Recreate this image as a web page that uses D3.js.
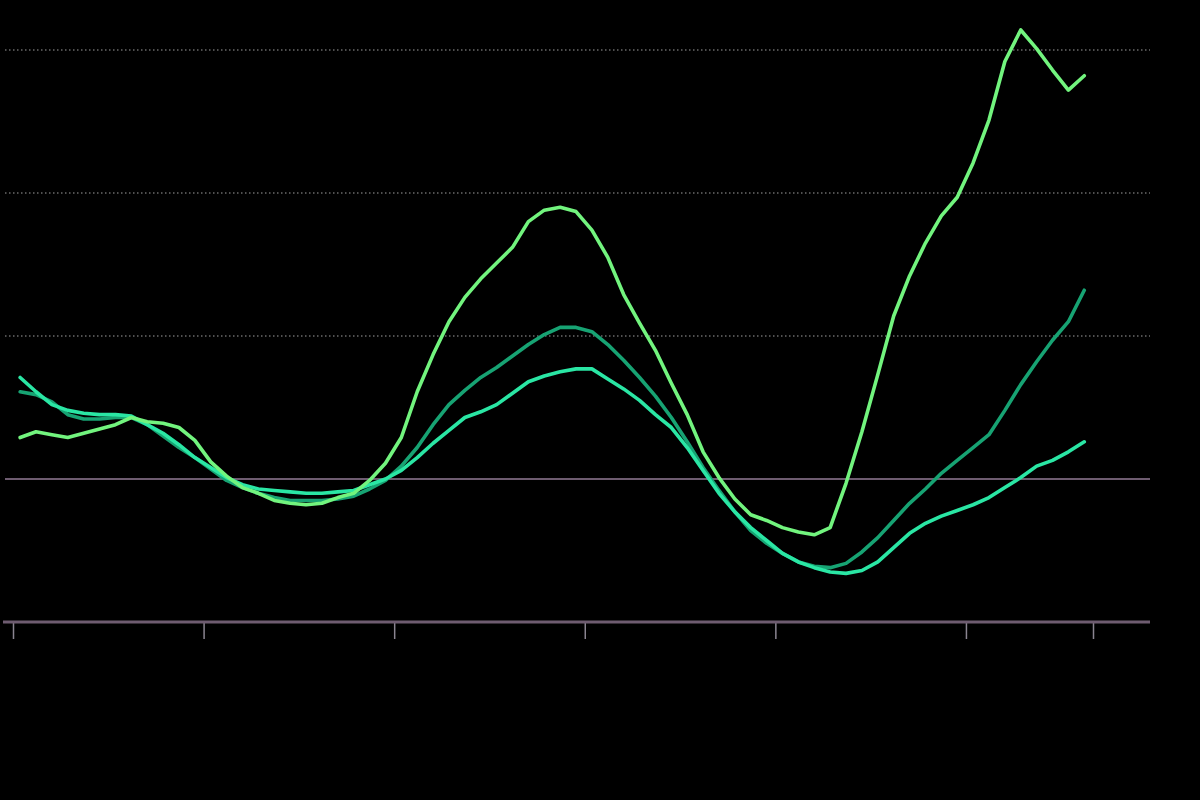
<!DOCTYPE html>
<html>
<head>
<meta charset="utf-8">
<script src="https://cdn.jsdelivr.net/npm/d3@7"></script>
<style>
  html, body { margin: 0; padding: 0; background: #000; }
  svg { display: block; }
</style>
</head>
<body>
<svg id="chart" width="1200" height="800"></svg>
<script>
// Period index (monthly)
const periods = d3.range(68);
const xTicks = [0, 12, 24, 36, 48, 60, 68];
const yGrid = [1, 2, 3];

const seriesLight = [0.29,0.33,0.31,0.29,0.32,0.35,0.38,0.43,0.40,0.39,0.36,0.27,0.12,0.02,-0.06,-0.10,-0.15,-0.17,-0.18,-0.17,-0.13,-0.10,-0.01,0.11,0.29,0.61,0.87,1.10,1.27,1.40,1.51,1.62,1.80,1.88,1.90,1.87,1.74,1.55,1.29,1.09,0.90,0.67,0.45,0.19,0.01,-0.14,-0.25,-0.29,-0.34,-0.37,-0.39,-0.34,-0.03,0.33,0.73,1.14,1.42,1.65,1.84,1.97,2.21,2.51,2.92,3.14,3.01,2.86,2.72,2.82];
const seriesDark = [0.61,0.59,0.54,0.45,0.42,0.42,0.43,0.43,0.38,0.30,0.22,0.15,0.07,-0.01,-0.06,-0.10,-0.13,-0.15,-0.15,-0.15,-0.14,-0.12,-0.07,-0.01,0.09,0.22,0.38,0.52,0.62,0.71,0.78,0.86,0.94,1.01,1.06,1.06,1.03,0.94,0.83,0.71,0.58,0.43,0.26,0.08,-0.08,-0.23,-0.36,-0.45,-0.52,-0.58,-0.61,-0.62,-0.59,-0.51,-0.41,-0.29,-0.17,-0.07,0.04,0.13,0.22,0.31,0.48,0.66,0.82,0.97,1.10,1.32];
const seriesTeal = [0.71,0.61,0.52,0.48,0.46,0.45,0.45,0.44,0.38,0.32,0.24,0.15,0.08,0.01,-0.04,-0.07,-0.08,-0.09,-0.10,-0.10,-0.09,-0.08,-0.04,0.00,0.06,0.15,0.25,0.34,0.43,0.47,0.52,0.60,0.68,0.72,0.75,0.77,0.77,0.70,0.63,0.55,0.45,0.36,0.22,0.06,-0.10,-0.23,-0.34,-0.43,-0.52,-0.58,-0.62,-0.65,-0.66,-0.64,-0.58,-0.48,-0.38,-0.31,-0.26,-0.22,-0.18,-0.13,-0.06,0.01,0.09,0.13,0.19,0.26];

const svg = d3.select("#chart");
const left = 5, right = 1150;

const x = d3.scaleLinear().domain([0, 68]).range([13, 1093]);
const y = d3.scaleLinear().domain([-1, 3]).range([622, 50]);
const pos = i => x(i + 0.45);

// dotted gridlines
svg.append("g").selectAll("line").data(yGrid).join("line")
  .attr("x1", left).attr("x2", right)
  .attr("y1", d => y(d)).attr("y2", d => y(d))
  .attr("stroke", "#6a6a6a").attr("stroke-width", 1.5)
  .attr("stroke-dasharray", "1.5,2.5");

// zero line
svg.append("line")
  .attr("x1", left).attr("x2", right)
  .attr("y1", y(0)).attr("y2", y(0))
  .attr("stroke", "#6e5c70").attr("stroke-width", 2);

// bottom axis
const xAxis = d3.axisBottom(x).tickValues(xTicks).tickSize(17).tickFormat("");
const ax = svg.append("g").attr("transform", `translate(0,${y(-1)})`).call(xAxis);
ax.select(".domain").remove();
ax.selectAll(".tick line").attr("stroke", "#8a8490").attr("stroke-width", 1.5);
svg.append("line")
  .attr("x1", left - 2).attr("x2", right)
  .attr("y1", y(-1)).attr("y2", y(-1))
  .attr("stroke", "#6e5c70").attr("stroke-width", 3);

const line = d3.line().x((d, i) => pos(i)).y(d => y(d));

const series = [
  { values: seriesDark, color: "#17a373" },
  { values: seriesTeal, color: "#2ae6a4" },
  { values: seriesLight, color: "#72f47e" }
];

svg.append("g").selectAll("path").data(series).join("path")
  .attr("d", d => line(d.values))
  .attr("fill", "none")
  .attr("stroke", d => d.color)
  .attr("stroke-width", 3.6)
  .attr("stroke-linejoin", "round")
  .attr("stroke-linecap", "round");
</script>
</body>
</html>
